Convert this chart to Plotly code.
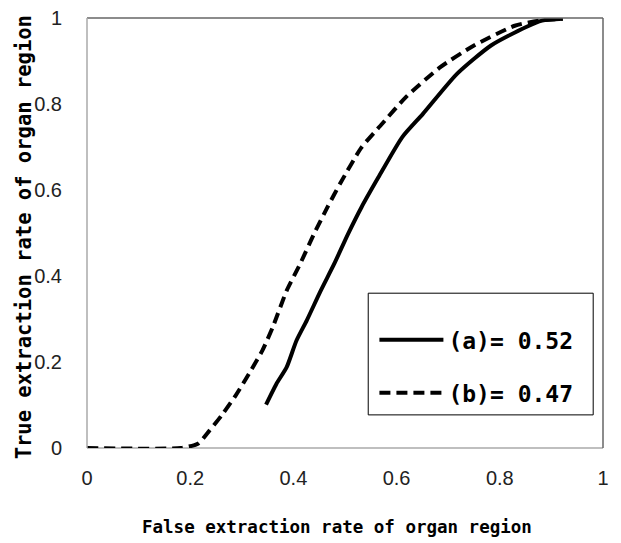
import plotly.graph_objects as go

# Curve (a): solid
a_x = [0.347, 0.367, 0.387, 0.406, 0.426, 0.453, 0.479, 0.506, 0.532, 0.565,
       0.611, 0.651, 0.717, 0.783, 0.849, 0.882, 0.922]
a_y = [0.101, 0.149, 0.188, 0.250, 0.297, 0.366, 0.428, 0.498, 0.560, 0.630,
       0.723, 0.777, 0.870, 0.936, 0.978, 0.994, 0.998]

# Curve (b): dashed
b_x = [0.0, 0.182, 0.215, 0.235, 0.261, 0.288, 0.314, 0.340, 0.360, 0.387,
       0.413, 0.440, 0.466, 0.492, 0.532, 0.572, 0.618, 0.684, 0.750, 0.829,
       0.876, 0.922]
b_y = [0.0, 0.0, 0.010, 0.037, 0.076, 0.122, 0.173, 0.227, 0.281, 0.366,
       0.428, 0.498, 0.560, 0.618, 0.699, 0.754, 0.816, 0.885, 0.936, 0.982,
       0.994, 0.998]

labels = ["(a)= 0.52", "(b)= 0.47"]
tick_vals = [0, 0.2, 0.4, 0.6, 0.8, 1]
tick_text = ["0", "0.2", "0.4", "0.6", "0.8", "1"]

mono = "DejaVu Sans Mono"

fig = go.Figure()
fig.add_trace(go.Scatter(x=a_x, y=a_y, mode="lines", name=labels[0],
                         legendgroup="a",
                         line=dict(color="black", width=4, shape="spline", smoothing=0.6)))
fig.add_trace(go.Scatter(x=b_x, y=b_y, mode="lines", name=labels[1],
                         legendgroup="b",
                         line=dict(color="black", width=4, dash="11px,6px",
                                   shape="spline", smoothing=0.6)))

# page has an 8px body margin, so figure size / margins compensate for it
fig.update_layout(
    width=613, height=535,
    margin=dict(l=79, r=18, t=10, b=95, autoexpand=False),
    paper_bgcolor="white", plot_bgcolor="white",
    showlegend=True,
    legend=dict(x=0.557, y=0.19, xanchor="left", yanchor="middle",
                bgcolor="rgba(0,0,0,0)", borderwidth=0,
                font=dict(family=mono, size=23, color="black", weight="bold"),
                tracegroupgap=20, itemwidth=64, traceorder="grouped"),
    xaxis=dict(range=[0, 1], tickvals=tick_vals, ticktext=tick_text,
               showgrid=False, zeroline=False, showline=False, ticks="",
               automargin=False, ticklabelstandoff=16, ticklabeloverflow="allow",
               tickfont=dict(family="Liberation Sans", size=20, color="#222")),
    yaxis=dict(range=[0, 1], tickvals=tick_vals, ticktext=tick_text,
               showgrid=False, zeroline=False, showline=False, ticks="",
               automargin=False, ticklabelstandoff=24, ticklabeloverflow="allow",
               tickfont=dict(family="Liberation Sans", size=20, color="#222")),
    shapes=[
        # plot frame
        dict(type="line", xref="paper", yref="paper", x0=0, x1=1, y0=1, y1=1,
             line=dict(color="#666", width=1.5)),
        dict(type="line", xref="paper", yref="paper", x0=1, x1=1, y0=0, y1=1,
             line=dict(color="#666", width=1.5)),
        dict(type="line", xref="paper", yref="paper", x0=0, x1=0, y0=0, y1=1,
             line=dict(color="#aaa", width=1.5)),
        dict(type="line", xref="paper", yref="paper", x0=0, x1=1, y0=0, y1=0,
             line=dict(color="#aaa", width=1.5), layer="below"),
        # legend box
        dict(type="rect", xref="paper", yref="paper",
             x0=0.545, x1=0.981, y0=0.077, y1=0.360,
             line=dict(color="black", width=1), fillcolor="white", layer="below"),
    ],
    annotations=[
        dict(text="False extraction rate of organ region", xref="paper", yref="paper",
             x=0.4845, y=-0.184, xanchor="center", yanchor="middle", showarrow=False,
             font=dict(family=mono, size=17.5, color="black", weight="bold")),
        dict(text="True extraction rate of organ region", xref="paper", yref="paper",
             x=-0.122, y=0.49, xanchor="center", yanchor="middle", showarrow=False,
             textangle=-90,
             font=dict(family=mono, size=20.5, color="black", weight="bold")),
    ],
)

fig.write_html("out.html")
